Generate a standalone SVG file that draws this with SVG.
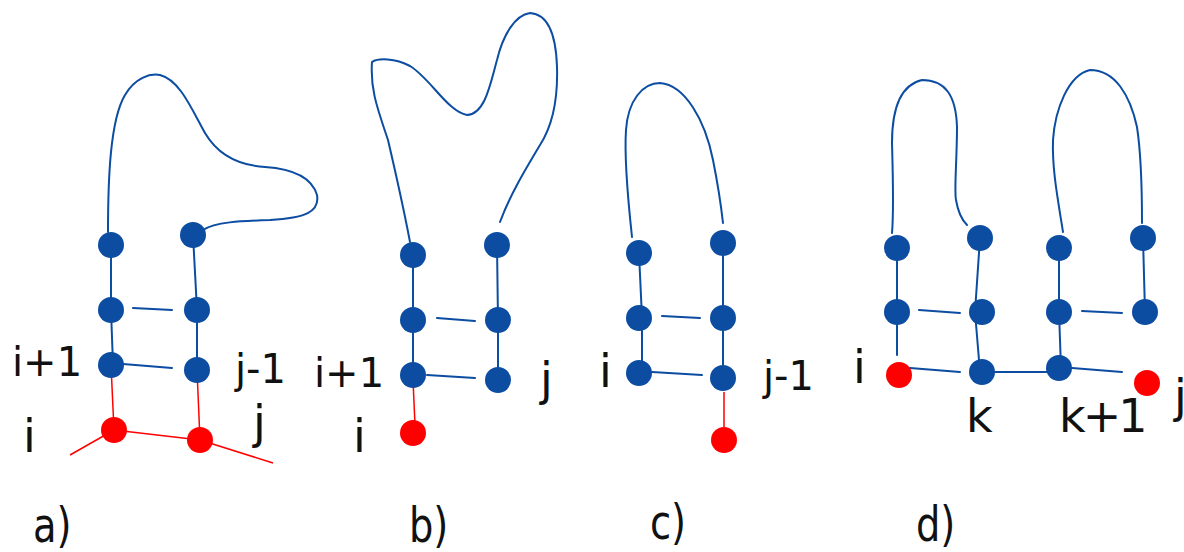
<svg xmlns="http://www.w3.org/2000/svg" width="1184" height="552" viewBox="0 0 1184 552">
<style>
.b{fill:#0c4da2}
.r{fill:#ff0000}
.bl{stroke:#0c4da2;stroke-width:2;fill:none;stroke-linecap:round}
.rl{stroke:#ff0000;stroke-width:1.5;fill:none}
.t{font-family:"DejaVu Sans",sans-serif;font-size:40px;fill:#111}
.s{font-family:"DejaVu Sans",sans-serif;font-size:46px;fill:#111}
.p{font-family:"DejaVu Sans",sans-serif;font-size:48px;fill:#111}
</style>
<rect width="1184" height="552" fill="#fff"/>
<g id="connectors">
<path class="bl" d="M108,232 C108,180 110,120 125,95 C135,78 150,73 160,75 C180,80 192,110 205,133 C215,150 232,165 265,167 C295,169 312,178 317,195 C320,212 305,218 270,220 C240,221 215,222 203,230"/>
<path class="bl" d="M111,245 L111,310 L113,365 M193,235 L197,310 L197,370 M133,308 L172,310 M123,364 L172,368"/>
<path class="rl" d="M111,365 L114,430 M197,370 L200,440 M114,430 L200,440 M70,455 L114,430 M200,440 L273,463"/>
<path class="bl" d="M410,242 C402,200 395,170 388,140 C378,110 370,90 372,62 C378,58 395,58 410,66 C430,78 448,112 467,115 C485,114 490,85 497,60 C503,35 515,15 530,13 C548,14 556,35 557,67 C558,100 553,125 540,145 C525,170 510,195 500,222"/>
<path class="bl" d="M413,255 L413,375 M497,245 L498,320 L498,380 M437,318 L475,321 M427,375 L475,378"/>
<path class="rl" d="M413,380 L415,425"/>
<path class="bl" d="M632,237 C628,200 624,160 626,130 C628,100 643,83 660,83 C685,85 705,120 713,160 C718,185 721,205 723,223"/>
<path class="bl" d="M639,253 L642,318 L642,373 M723,243 L723,378 M662,316 L700,318 M652,372 L702,375"/>
<path class="rl" d="M724,392 L724,427"/>
<path class="bl" d="M892,233 C894,210 893,180 892,143 C892,110 900,85 922,80 C945,80 956,95 957,127 C957,160 954,190 956,200 C958,212 962,220 967,225"/>
<path class="bl" d="M1063,232 C1058,200 1052,170 1053,140 C1055,110 1068,75 1090,70 C1115,70 1130,95 1137,127 C1142,160 1142,200 1142,223"/>
<path class="bl" d="M897,248 L897,312 L897,355 M980,238 L975,312 L980,372 M919,310 L960,313 M910,368 L960,372 M982,372 L1059,372 M1072,368 L1122,372 M1059,248 L1059,312 L1061,368 M1143,238 L1145,312 M1082,311 L1122,313"/>
</g>
<g id="nodes-a">
<circle class="b" cx="111" cy="245" r="13"/>
<circle class="b" cx="193" cy="235" r="13"/>
<circle class="b" cx="111" cy="310" r="13"/>
<circle class="b" cx="197" cy="310" r="13"/>
<circle class="b" cx="111" cy="365" r="13"/>
<circle class="b" cx="197" cy="370" r="13"/>
<circle class="r" cx="114" cy="430" r="13"/>
<circle class="r" cx="200" cy="440" r="13"/>
</g>
<g id="nodes-b">
<circle class="b" cx="413" cy="255" r="13"/>
<circle class="b" cx="497" cy="245" r="13"/>
<circle class="b" cx="413" cy="320" r="13"/>
<circle class="b" cx="498" cy="320" r="13"/>
<circle class="b" cx="413" cy="375" r="13"/>
<circle class="b" cx="498" cy="380" r="13"/>
<circle class="r" cx="413" cy="433" r="13"/>
</g>
<g id="nodes-c">
<circle class="b" cx="639" cy="253" r="13"/>
<circle class="b" cx="723" cy="243" r="13"/>
<circle class="b" cx="639" cy="318" r="13"/>
<circle class="b" cx="723" cy="318" r="13"/>
<circle class="b" cx="639" cy="373" r="13"/>
<circle class="b" cx="723" cy="378" r="13"/>
<circle class="r" cx="724" cy="440" r="13"/>
</g>
<g id="nodes-d">
<circle class="b" cx="897" cy="248" r="13"/>
<circle class="b" cx="980" cy="238" r="13"/>
<circle class="b" cx="897" cy="312" r="13"/>
<circle class="b" cx="982" cy="312" r="13"/>
<circle class="r" cx="899" cy="375" r="13"/>
<circle class="b" cx="982" cy="372" r="13"/>
<circle class="b" cx="1059" cy="248" r="13"/>
<circle class="b" cx="1143" cy="238" r="13"/>
<circle class="b" cx="1059" cy="312" r="13"/>
<circle class="b" cx="1145" cy="312" r="13"/>
<circle class="b" cx="1059" cy="368" r="13"/>
<circle class="r" cx="1147" cy="383" r="13"/>
</g>
<g id="labels">
<text class="t" x="12" y="376" font-size="38">i+1</text>
<text class="t" x="235" y="383" font-size="42">j-1</text>
<text class="s" x="23" y="452">i</text>
<text class="s" x="253" y="438">j</text>
<text class="t" x="314" y="387">i+1</text>
<text class="s" x="353" y="452">i</text>
<text class="s" x="540" y="395">j</text>
<text class="s" x="599" y="387">i</text>
<text class="t" x="763" y="390" font-size="42">j-1</text>
<text class="s" x="853" y="383">i</text>
<text class="s" x="1174" y="412">j</text>
<text class="s" x="966" y="432">k</text>
<text class="s" x="1059" y="432" letter-spacing="-3">k+1</text>
<text class="p" transform="translate(33,542) scale(0.8,1)">a)</text>
<text class="p" transform="translate(409,542) scale(0.8,1)">b)</text>
<text class="p" transform="translate(650,539) scale(0.8,1)">c)</text>
<text class="p" transform="translate(916,541) scale(0.8,1)">d)</text>
</g>
</svg>
